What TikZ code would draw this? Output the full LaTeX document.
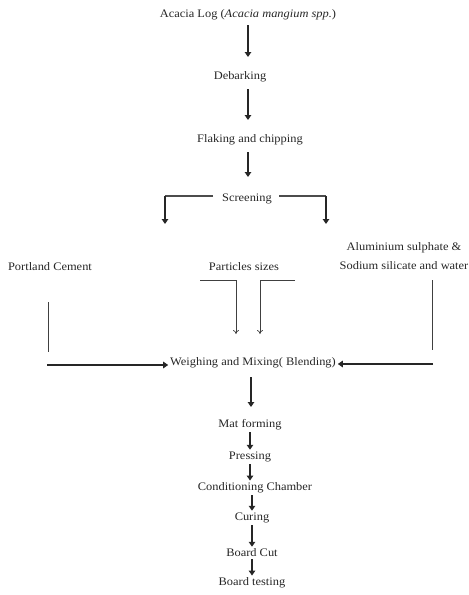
\documentclass[tikz,border=0pt]{standalone}
\usepackage{fontspec}
\setmainfont[FakeStretch=1.08]{Liberation Serif}
\usetikzlibrary{arrows.meta}
\begin{document}
\begin{tikzpicture}[x=1pt,y=-1pt,
  lbl/.style={font=\fontsize{11.5}{19}\selectfont, inner sep=1pt, text=black!85},
  heavy/.style={line width=2.8pt, draw=black!85, -{Triangle[length=5pt,width=6.5pt]}},
  bracket/.style={line width=1.3pt, draw=black!70},
  thin/.style={line width=0.7pt, draw=black!75},
  thinarrow/.style={line width=0.7pt, draw=black!75, -{To[length=4pt,width=6pt]}}]
\useasboundingbox (0,0) rectangle (469,595);
% main chain
\node[lbl] (log) at (248,15) {Acacia Log (\textit{Acacia mangium spp.})};
\node[lbl] (deb) at (240,77) {Debarking};
\node[lbl] (flak) at (250,140) {Flaking and chipping};
\node[lbl] (scr) at (247,199) {Screening};
\coordinate (a1) at (248,25); \coordinate (a1e) at (248,57);
\coordinate (a2) at (248,89); \coordinate (a2e) at (248,120);
\coordinate (a3) at (248,152); \coordinate (a3e) at (248,177);
\draw[heavy] (a1) -- (a1e);
\draw[heavy] (a2) -- (a2e);
\draw[heavy] (a3) -- (a3e);
% screening bracket
\coordinate (sl1) at (213,196); \coordinate (sl2) at (165,196); \coordinate (sl3) at (165,224);
\coordinate (sr1) at (279,196); \coordinate (sr2) at (326,196); \coordinate (sr3) at (326,224);
\draw[bracket] (sl1) -- (sl2);
\draw[bracket] (sr1) -- (sr2);
\draw[heavy] (sl2) -- (sl3);
\draw[heavy] (sr2) -- (sr3);
% inputs
\node[lbl] (pc) at (50,267) {Portland Cement};
\node[lbl] (ps) at (244,267) {Particles sizes};
\node[lbl, align=center] (al) at (404,256) {Aluminium sulphate \&\\Sodium silicate and water};
% particles arrows
\coordinate (p1) at (200,280); \coordinate (p2) at (236,280); \coordinate (p3) at (236,334);
\coordinate (q1) at (295,280); \coordinate (q2) at (260,280); \coordinate (q3) at (260,334);
\draw[thin] (p1) -- (p2); \draw[thinarrow] (p2) -- (p3);
\draw[thin] (q1) -- (q2); \draw[thinarrow] (q2) -- (q3);
% mixing
\node[lbl, outer sep=1pt] (mix) at (253,363) {Weighing and Mixing( Blending)};
\coordinate (c1) at (48,302); \coordinate (c2) at (48,352); \coordinate (c3) at (47,365);
\draw[thin] (c1) -- (c2);
\draw[heavy] (c3) -- (c3 -| mix.west);
\coordinate (d1) at (432,280); \coordinate (d2) at (432,350); \coordinate (d3) at (433,364);
\draw[thin] (d1) -- (d2);
\draw[heavy] (d3) -- (d3 -| mix.east);
% lower chain
\node[lbl] (mat) at (250,425) {Mat forming};
\node[lbl] (pre) at (250,457) {Pressing};
\node[lbl] (con) at (255,488) {Conditioning Chamber};
\node[lbl] (cur) at (252,518) {Curing};
\node[lbl] (cut) at (252,553) {Board Cut};
\node[lbl] (tst) at (252,583) {Board testing};
\coordinate (m1) at (251,377); \coordinate (m2) at (251,407);
\draw[heavy] (m1) -- (m2);
\draw[heavy, shorten <=1pt, shorten >=1pt] (mat.south) -- (mat.south |- pre.north);
\draw[heavy, shorten <=1pt, shorten >=1pt] (pre.south) -- (pre.south |- con.north);
\draw[heavy, shorten <=1pt, shorten >=1pt] (cur.north |- con.south) -- (cur.north);
\draw[heavy, shorten <=1pt, shorten >=1pt] (cur.south) -- (cur.south |- cut.north);
\draw[heavy, shorten <=1pt, shorten >=1pt] (cut.south) -- (cut.south |- tst.north);
\end{tikzpicture}
\end{document}
